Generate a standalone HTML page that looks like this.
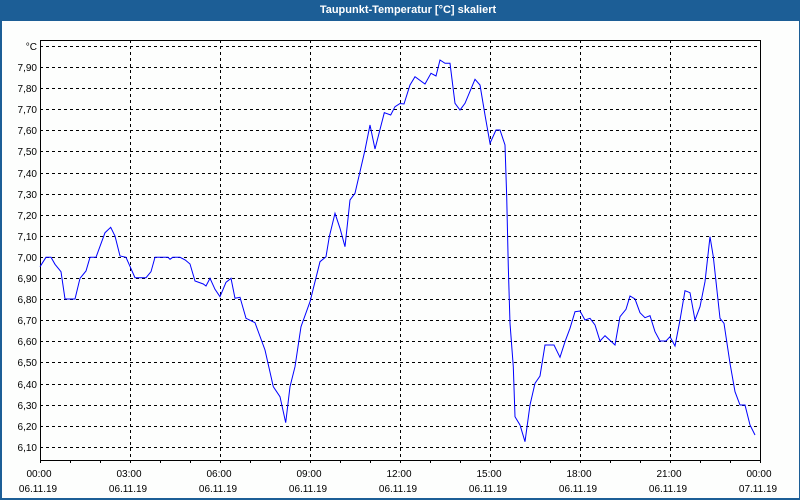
<!DOCTYPE html>
<html><head><meta charset="utf-8"><style>
html,body{margin:0;padding:0;width:800px;height:500px;overflow:hidden;background:#fff}
svg{display:block}
text{font-family:"Liberation Sans",Arial,sans-serif;}
</style></head><body>
<svg width="800" height="500" viewBox="0 0 800 500" xmlns="http://www.w3.org/2000/svg">
<rect x="0" y="0" width="800" height="500" fill="#1c5e96"/>
<rect x="2" y="21" width="797" height="477" fill="#fdfefd"/>
<text x="408" y="13" fill="#ffffff" font-size="11" font-weight="bold" text-anchor="middle">Taupunkt-Temperatur [°C] skaliert</text>
<g stroke="#000" stroke-width="1" stroke-dasharray="3,3" shape-rendering="crispEdges" fill="none">
<path d="M40 447.5H760M40 426.5H760M40 405.5H760M40 384.5H760M40 362.5H760M40 341.5H760M40 320.5H760M40 299.5H760M40 278.5H760M40 257.5H760M40 236.5H760M40 215.5H760M40 194.5H760M40 173.5H760M40 151.5H760M40 130.5H760M40 109.5H760M40 88.5H760M40 67.5H760M40 46.5H760"/>
<path d="M130.5 40V460M220.5 40V460M310.5 40V460M400.5 40V460M490.5 40V460M580.5 40V460M670.5 40V460"/>
</g>
<g stroke="#000" stroke-width="1" shape-rendering="crispEdges" fill="none">
<rect x="40.5" y="40.5" width="720" height="420"/>
<path d="M40.5 460V463M70.5 460V463M100.5 460V463M130.5 460V463M160.5 460V463M190.5 460V463M220.5 460V463M250.5 460V463M280.5 460V463M310.5 460V463M340.5 460V463M370.5 460V463M400.5 460V463M430.5 460V463M460.5 460V463M490.5 460V463M520.5 460V463M550.5 460V463M580.5 460V463M610.5 460V463M640.5 460V463M670.5 460V463M700.5 460V463M730.5 460V463M760.5 460V463"/>
</g>
<polyline fill="none" stroke="#0000ff" stroke-width="1" points="40,266.7 46,257.3 51,257.3 55,264.3 61,271.7 65,299 75,299 80,278.3 86,271 90,257.3 96,257.3 105,232.7 110.7,227.3 115,236 120,256 126,257.3 135,277.7 146,277.7 151,271.7 155,257.3 168,257.3 170,259.3 172.7,257.3 180,257.3 185.3,260 190,264 195,281 203.3,284 206,286 210,278.3 215,289.3 220,296.7 226,282.3 231,278.3 235,298.3 240,297.3 246,318.3 255,322.7 265,350 273.3,386.7 280,396.7 285.7,422.7 290,386.7 295,366.7 301,326.7 310,301.7 320,261.7 326,256.7 329.3,236.7 335,213.3 340,228.3 345,246.7 350,200 355,193.3 365,150 370,125 375,149 384.3,112.7 390.7,115 395,106.7 400,103.5 404,104 410,85 415,76.7 425,84 431,73.3 436,76 440,60 445,63.3 450,63.3 455,103.3 460,110 465,103.3 475,79.3 480,85 485,115 490,143.3 496,130 500,130 505,145 506.7,196.7 508.3,266.7 510,323.3 513.3,366.7 515,416.7 520,425 525,441.7 530,405 535,383.3 540,376 545,345 554,345 560,357.3 565,341.7 570,328.3 575,311.7 580,311 585,320 590,318.3 595,325 600,341 605,335.7 615,345 620,316.7 626,309.3 630,296 635,299 640,312.7 645,317.7 650,315.7 655,331.7 660,341 666,341 670,336.7 675,346 680,320 685,290.7 690,292.7 695,320 700,306.7 705,281.7 710,236.7 713.3,256.7 720,318.3 724,323.3 730,363.3 735,391.7 740,405 745,405 750,425 755,435"/>
<g font-size="10" fill="#000" text-anchor="end">
<text x="37" y="50">°C</text>
<text x="37" y="71">7,90</text>
<text x="37" y="92">7,80</text>
<text x="37" y="113">7,70</text>
<text x="37" y="134">7,60</text>
<text x="37" y="155">7,50</text>
<text x="37" y="177">7,40</text>
<text x="37" y="198">7,30</text>
<text x="37" y="219">7,20</text>
<text x="37" y="240">7,10</text>
<text x="37" y="261">7,00</text>
<text x="37" y="282">6,90</text>
<text x="37" y="303">6,80</text>
<text x="37" y="324">6,70</text>
<text x="37" y="345">6,60</text>
<text x="37" y="366">6,50</text>
<text x="37" y="388">6,40</text>
<text x="37" y="409">6,30</text>
<text x="37" y="430">6,20</text>
<text x="37" y="451">6,10</text>
</g>
<g font-size="10" fill="#000" text-anchor="middle">
<text x="39" y="477">00:00</text><text x="38" y="492">06.11.19</text>
<text x="129" y="477">03:00</text><text x="128" y="492">06.11.19</text>
<text x="219" y="477">06:00</text><text x="218" y="492">06.11.19</text>
<text x="309" y="477">09:00</text><text x="308" y="492">06.11.19</text>
<text x="399" y="477">12:00</text><text x="398" y="492">06.11.19</text>
<text x="489" y="477">15:00</text><text x="488" y="492">06.11.19</text>
<text x="579" y="477">18:00</text><text x="578" y="492">06.11.19</text>
<text x="669" y="477">21:00</text><text x="668" y="492">06.11.19</text>
<text x="759" y="477">00:00</text><text x="758" y="492">07.11.19</text>
</g>
</svg>
</body></html>
